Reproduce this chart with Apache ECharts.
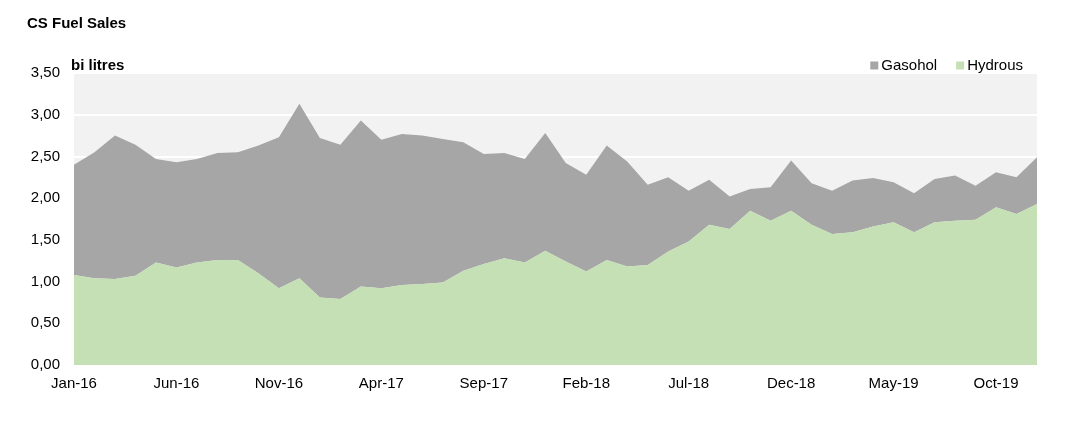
<!DOCTYPE html>
<html>
<head>
<meta charset="utf-8">
<script src="https://cdn.jsdelivr.net/npm/echarts@6/dist/echarts.min.js"></script>
<style>
  html, body { margin: 0; padding: 0; background: #fff; }
  #chart { width: 1078px; height: 448px; }
</style>
</head>
<body>
<div id="chart"></div>
<script>
// months Jan-16 .. Dec-19
var months = ['Jan','Feb','Mar','Apr','May','Jun','Jul','Aug','Sep','Oct','Nov','Dec'];
var categories = [];
for (var y = 16; y <= 19; y++) {
  for (var m = 0; m < 12; m++) categories.push(months[m] + '-' + y);
}

// bi litres
var hydrous = [1.08,1.04,1.03,1.07,1.23,1.17,1.23,1.26,1.26,1.10,0.92,1.04,
               0.81,0.79,0.94,0.92,0.96,0.97,0.99,1.13,1.21,1.28,1.23,1.37,
               1.24,1.12,1.26,1.18,1.20,1.36,1.48,1.68,1.63,1.85,1.73,1.85,
               1.68,1.57,1.59,1.66,1.71,1.59,1.71,1.73,1.74,1.89,1.81,1.93];
var gasohol = [1.32,1.51,1.72,1.57,1.24,1.26,1.24,1.28,1.29,1.53,1.81,2.09,
               1.91,1.85,1.99,1.78,1.81,1.78,1.72,1.54,1.32,1.26,1.24,1.41,
               1.18,1.16,1.37,1.26,0.96,0.89,0.61,0.54,0.39,0.26,0.40,0.60,
               0.50,0.52,0.62,0.58,0.48,0.47,0.52,0.54,0.41,0.42,0.44,0.56];

var font = 'Liberation Sans, Arial, sans-serif';
var chart = echarts.init(document.getElementById('chart'));

chart.setOption({
  animation: false,
  title: [
    { text: 'CS Fuel Sales', left: 22, top: 11,
      textStyle: { fontFamily: font, fontSize: 15, fontWeight: 'bold', color: '#000' } },
    { text: 'bi litres', left: 66, top: 53,
      textStyle: { fontFamily: font, fontSize: 15, fontWeight: 'bold', color: '#000' } }
  ],
  legend: {
    data: ['Gasohol', 'Hydrous'],
    right: 50, top: 53,
    icon: 'rect', itemWidth: 8, itemHeight: 8, itemGap: 19,
    textStyle: { fontFamily: font, fontSize: 15, color: '#000', padding: [0, 0, 0, -2] }
  },
  grid: {
    left: 74, right: 41, top: 73, bottom: 83,
    show: true, backgroundColor: '#f2f2f2', borderWidth: 0
  },
  xAxis: {
    type: 'category',
    data: categories,
    boundaryGap: false,
    axisLine: { show: false },
    axisTick: { show: false },
    axisLabel: { interval: 4, fontFamily: font, fontSize: 15, color: '#000', margin: 11 }
  },
  yAxis: {
    type: 'value',
    min: 0, max: 3.5, interval: 0.5,
    axisLine: { show: false },
    axisTick: { show: false },
    splitLine: { lineStyle: { color: '#ffffff', width: 2 } },
    axisLabel: {
      fontFamily: font, fontSize: 15, color: '#000', margin: 14,
      formatter: function (v) { return v.toFixed(2).replace('.', ','); }
    }
  },
  series: [
    {
      name: 'Hydrous', type: 'line', stack: 'total', data: hydrous,
      showSymbol: false, lineStyle: { width: 0 },
      itemStyle: { color: '#c5e0b4' },
      areaStyle: { color: '#c5e0b4', opacity: 1 }, z: 3
    },
    {
      name: 'Gasohol', type: 'line', stack: 'total', data: gasohol,
      showSymbol: false, lineStyle: { width: 0 },
      itemStyle: { color: '#a6a6a6' },
      areaStyle: { color: '#a6a6a6', opacity: 1 }, z: 2
    }
  ]
});
</script>
</body>
</html>
